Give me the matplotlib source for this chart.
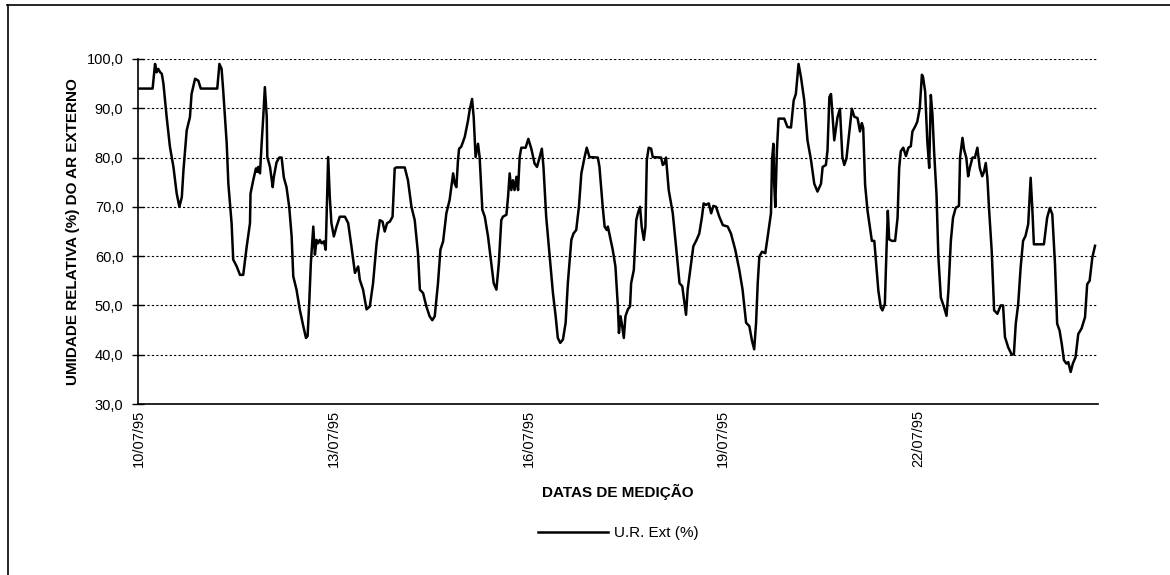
import matplotlib
matplotlib.use("Agg")
import matplotlib.pyplot as plt
from matplotlib.lines import Line2D

plt.rcParams["font.family"] = ["Liberation Sans", "DejaVu Sans"]

# horas contadas a partir de 10/07/95 00:00
horas = [
    0, 5.0, 5.9, 6.5, 7.1, 7.8, 8.4, 9.0, 10.2, 11.4, 12.7, 13.9, 14.9, 15.8, 16.4, 17.6,
    18.8, 19.4, 20.7, 21.9, 22.8, 28.9, 29.7, 30.5, 31.1, 32.4, 33.0, 34.2, 34.8, 36.1,
    37.3, 38.5, 39.8, 41.0, 41.2, 42.2, 43.2, 43.7, 44.0, 44.7, 45.3, 45.9, 46.5, 47.2,
    47.4, 48.4, 49.4, 49.8, 50.8, 51.8, 52.7, 53.5, 54.5, 55.5, 56.4, 57.0, 58.2, 59.4,
    60.7, 61.7, 62.3, 62.9, 63.5, 64.4, 65.0, 65.6, 66.2, 66.8, 67.5, 68.3, 69.0, 69.9,
    70.5, 71.1, 72.0, 73.0, 74.2, 76.1, 77.3, 78.5, 79.8, 81.0, 81.6, 82.8, 84.1, 85.3,
    86.5, 87.8, 89.0,
    90.0, 90.8, 91.7, 92.7, 93.7, 94.5, 95.1, 98.2, 99.4, 100.7, 101.9, 103.1, 103.8,
    105.0, 106.2, 107.4, 108.4, 109.3, 110.5, 111.4, 112.4, 113.6, 114.8, 116.1, 116.7,
    117.3, 117.9, 118.3, 119.1, 120.4, 121.6, 122.2, 123.1, 123.7, 124.4, 125.3, 125.9,
    126.9, 127.8, 129.0, 130.2, 131.1, 132.1, 133.0, 133.9, 134.5, 135.8, 136.4, 137.0,
    137.6, 138.2, 138.8, 139.5, 140.1, 140.7, 141.3, 142.9, 143.9, 145.0, 146.2, 147.1,
    148.1, 148.9, 149.5, 150.5, 151.8, 153.0, 154.0, 154.8, 155.7, 156.7, 157.7, 158.5,
    159.8, 160.6, 161.6, 162.6, 163.5, 164.7, 165.5, 166.5, 169.6, 170.2, 171.4, 172.1,
    172.9, 173.3, 174.2, 175.1, 176.1, 177.0,
    177.4, 178.0, 178.6, 179.2, 179.8, 180.7, 181.5, 181.9, 182.9, 183.8, 184.4, 185.2,
    185.8, 186.6, 187.2, 187.7, 188.4, 189.3, 189.9, 193.0, 193.6, 194.2, 194.8, 195.8,
    197.3, 198.5, 199.8, 200.8, 201.6, 202.2, 202.8, 204.1, 204.9, 206.1, 207.1, 208.1,
    208.7, 209.6, 210.6, 211.5, 212.3, 213.3, 214.5, 215.8, 217.6, 218.8, 220.4, 221.9,
    223.1, 224.4, 225.6, 226.6, 227.4, 228.1, 228.7, 229.3, 230.3, 231.5, 232.4, 233.6,
    234.0, 234.5, 234.8, 235.2, 235.8, 236.4, 238.5, 239.7, 241.0, 242.0, 242.8, 243.8,
    244.7, 245.9, 247.1, 248.4, 249.6, 250.8, 252.1, 252.7, 253.9, 254.5, 255.2, 255.8,
    256.4, 257.0, 258.2, 259.1, 260.0, 260.7, 261.5, 262.5, 263.5,
    264.4, 265.6, 266.5, 267.2, 267.7, 268.4, 269.3, 270.2, 270.9, 271.8, 272.4, 273.3,
    274.2, 274.8, 275.7, 276.3, 276.8, 277.3, 278.3, 279.5, 280.4, 281.0, 281.6, 282.5,
    283.5, 284.4, 285.3, 285.9, 286.9, 287.7, 288.6, 289.4, 289.8, 290.6, 291.4, 292.1,
    292.7, 293.3, 293.9, 294.8, 295.5, 296.4, 297.6, 298.5, 299.2, 300.1, 300.9, 301.9,
    303.1, 303.5, 304.4, 305.0, 305.8, 306.5, 307.1, 308.1, 309.0, 309.9, 310.8, 311.7,
    312.4, 313.0, 313.6, 314.2, 315.2, 316.1, 317.3, 318.5, 319.4, 320.1, 321.3, 322.6,
    323.4, 324.1, 325.0, 325.9, 326.8, 327.7, 328.7, 329.6, 330.2, 330.8, 334.5, 335.7,
    336.7, 337.6, 338.6, 339.4, 340.3, 341.1, 341.9, 342.8, 343.5, 344.4, 345.2, 346.2,
    347.2, 348.4, 349.7, 350.5, 351.4, 352.4, 353.4,
]

ur_ext = [
    94, 94, 99, 97.3, 98, 97.3, 97, 95, 88.2, 82.2, 78.1, 72.7, 70, 72, 77.4, 85.5,
    88.2, 92.9, 96, 95.6, 94, 94, 99, 98, 93.6, 82.8, 74.7, 66.7, 59.3, 57.9,
    56.2, 56.2, 62, 66.7, 72.7, 75.4, 77.8, 77.1, 78.1, 76.8, 82.8, 88.2, 94.3, 88.2,
    80.1, 78.1, 74, 76, 79, 80, 80, 76, 74, 70, 64, 55.9, 53.2, 49.2,
    45.8, 43.4, 43.8, 50.5, 58.6, 66, 60.3, 63.3, 62.6, 63.3, 62.6, 63, 61.3, 80.1,
    72, 66.7, 64, 66, 68, 68, 66.7, 62, 56.6, 57.9, 55.2, 53.2, 49.2, 49.8,
    54.5, 62.6, 67.3,
    67, 65, 66.7, 67, 68, 77.8, 78, 78, 75.4, 70, 67.3, 60.6, 53.2,
    52.5, 49.8, 47.8, 47, 47.8, 54.5, 61.3, 63, 68.7, 71.4, 76.8, 74.7,
    74, 79.5, 81.8, 82.2, 84.2, 87.5, 89.6, 91.9, 88.2, 80.1, 82.8, 80.1,
    69.4, 68, 64, 58.6, 54.5, 53.2, 58.6, 67.3, 68, 68.4, 72, 76.8,
    73.4, 75.4, 73.4, 76.1, 73.4, 80.1, 82, 82, 83.8, 81.8, 78.8, 78.1,
    80.1, 81.8, 78.1, 68, 59.9, 52.5, 47.8, 43.4, 42.4, 43.1, 46.5, 54.5,
    63.3, 64.6, 65.3, 70, 76.8, 80.1, 82, 80.1, 80, 78.1, 70, 66,
    65.3, 66, 63.6, 61.3, 57.9, 49.8,
    44.4, 47.8, 45.8, 43.4, 47.8, 49.2, 49.8, 54.5, 57.2, 67.3, 68.7, 70,
    66, 63.3, 66, 79.5, 82, 81.8, 80.1, 80, 78.5, 78.8, 80, 73.4,
    68.7, 62, 54.5, 53.9, 50.5, 48.1, 53.2, 58.6, 62, 63.3, 64.6, 68,
    70.7, 70.4, 70.7, 68.7, 70.2, 70, 68, 66.3, 66, 64.6, 61.3, 57.2,
    53.2, 46.5, 45.8, 42.8, 41.1, 46.5, 54.5, 59.9, 60.9, 60.6, 64, 68.7,
    79.5, 82.8, 74.7, 70, 81.5, 87.9, 87.9, 86.2, 86.1, 91.6, 92.9, 99,
    96.3, 91.6, 83.5, 79.5, 74.7, 73.1, 74.7, 78.1, 78.5, 81.5, 92.3, 92.9,
    88.2, 83.5, 88.2, 89.9, 80.1, 78.5, 79.8, 84.8, 89.9,
    88.3, 88, 85.3, 87, 86, 74.5, 69.2, 65.8, 63.1, 63.1, 59.1, 53,
    49.6, 49, 50.3, 61.1, 69.2, 63.4, 63.1, 63.1, 67.8, 77.9, 81.3, 82,
    80.3, 82, 82.3, 85.3, 86.3, 87.3, 90, 96.8, 96.4, 93.4, 83.3, 77.9,
    92.7, 88.7, 81.3, 72.5, 59.7, 51.6, 49.6, 47.9, 53, 63.1, 67.8, 69.8,
    70.2, 80, 84, 81.6, 80, 76.2, 77.9, 80, 80, 82, 77.9, 76.2,
    77.2, 78.9, 75.9, 69.8, 61.1, 49, 48.3, 50, 50, 43.6, 41.5, 40,
    40.1, 46.3, 50.3, 57.7, 63.1, 64.1, 66.5, 75.9, 69.8, 62.4, 62.4, 67.8,
    69.8, 68.5, 58.4, 46.3, 44.9, 42.2, 38.9, 38.2, 38.5, 36.5, 38.2, 39.5,
    44.2, 45.3, 47.6, 54.3, 55, 59.7, 62.1,
]

datas_pos = [0, 72, 144, 216, 288]
datas_txt = ["10/07/95", "13/07/95", "16/07/95", "19/07/95", "22/07/95"]
y_ticks = [30, 40, 50, 60, 70, 80, 90, 100]

fig = plt.figure(figsize=(11.7, 5.75), dpi=100)
ax = fig.add_axes([138 / 1170, 1 - 404 / 575, 960 / 1170, 345 / 575])

ax.plot(horas, ur_ext, color="black", lw=1.8, label="U.R. Ext (%)")

ax.set_xlim(-0.4, 354.5)
ax.set_ylim(30, 100)
ax.set_yticks(y_ticks)
ax.set_yticklabels([f"{v:.1f}".replace(".", ",") for v in y_ticks], fontsize=10.5)
ax.set_xticks(datas_pos)
ax.set_xticklabels(datas_txt, rotation=90, fontsize=10.5)

ax.grid(axis="y", color="black", lw=0.8, linestyle=(0, (2, 2)))
ax.tick_params(axis="y", direction="inout", length=9, width=1, pad=6)
ax.tick_params(axis="x", length=0, pad=4)

for s in ["top", "right"]:
    ax.spines[s].set_visible(False)
for s in ["left", "bottom"]:
    ax.spines[s].set_linewidth(1.2)

fig.text(73 / 1170, 1 - 232 / 575, "UMIDADE RELATIVA (%) DO AR EXTERNO",
         rotation=90, ha="center", va="center", fontsize=11, fontweight="bold")
fig.text(618 / 1170, 1 - 492 / 575, "DATAS DE MEDIÇÃO",
         ha="center", va="center", fontsize=11, fontweight="bold")

ax.legend(loc="center", bbox_to_anchor=(618 / 1170, 1 - 533 / 575),
          bbox_transform=fig.transFigure, frameon=False, fontsize=11,
          handlelength=4.6, handletextpad=0.35)

# moldura do gráfico
fig.add_artist(Line2D([7 / 1170, 1], [1 - 5 / 575, 1 - 5 / 575], color="black", lw=1.2))
fig.add_artist(Line2D([8 / 1170, 8 / 1170], [0, 1 - 5 / 575], color="black", lw=1.2))

fig.savefig("out.png", dpi=100)
